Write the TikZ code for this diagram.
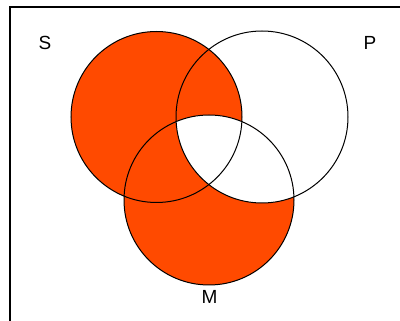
\documentclass[tikz,border=0pt]{standalone}
\usepackage{fontspec}
\setmainfont{Liberation Sans}
\definecolor{vennorange}{RGB}{255,74,0}
\begin{document}
\begin{tikzpicture}[x=1pt,y=-1pt,
  ring/.style={draw=black,line width=1pt},
  lbl/.style={font=\fontsize{19}{21}\selectfont,inner sep=0pt}]
\useasboundingbox (0,0) rectangle (400,321);
\coordinate (cS) at (156.5,117);
\coordinate (cP) at (262,117);
\coordinate (cM) at (209,200);
% filled regions
\fill[vennorange] (cS) circle[radius=85.5];
\fill[vennorange] (cM) circle[radius=85];
\begin{scope}
  \clip (cP) circle[radius=86];
  \fill[white] (cM) circle[radius=85];
\end{scope}
% outlines
\draw[ring] (cS) circle[radius=85.5];
\draw[ring] (cP) circle[radius=86];
\draw[ring] (cM) circle[radius=85];
% frame
\draw[line width=1.6pt] (10,321) -- (10,7) -- (400,7);
% labels
\node[lbl] (S) at (45,43) {S};
\node[lbl] (P) at (370,43) {P};
\node[lbl] (M) at (209.5,297) {M};
\end{tikzpicture}
\end{document}
